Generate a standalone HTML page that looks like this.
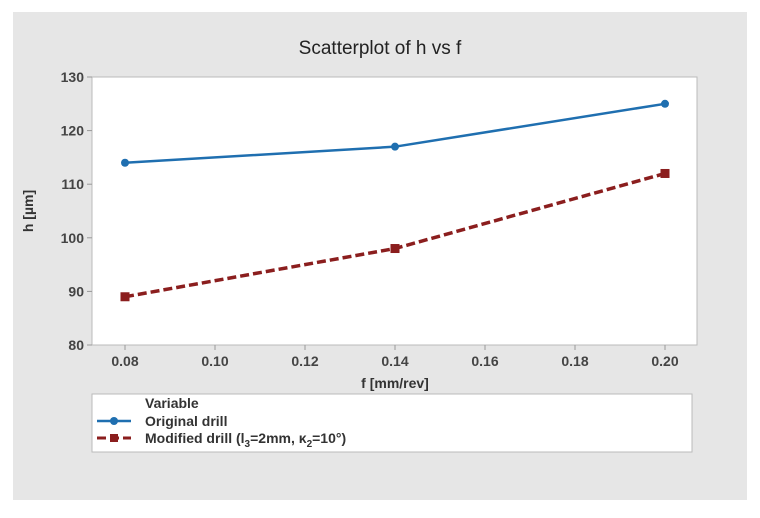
<!DOCTYPE html>
<html><head><meta charset="utf-8"><style>
body{margin:0;background:#fff;}
svg{display:block;font-family:"Liberation Sans",sans-serif;}
</style></head><body>
<svg width="760" height="518">
<rect x="13" y="12" width="734" height="488" fill="#e6e6e6"/>
<text x="380" y="54" text-anchor="middle" font-size="19" fill="#222">Scatterplot of h vs f</text>
<rect x="92" y="77" width="605" height="268" fill="#fff" stroke="#bbb"/>
<g id="axes"></g>
<g id="series"></g>
<text x="395" y="388" text-anchor="middle" font-size="14" font-weight="bold" fill="#333">f [mm/rev]</text>
<text transform="translate(33,211) rotate(-90)" text-anchor="middle" font-size="14" font-weight="bold" fill="#333">h [µm]</text>
<g>
<rect x="92" y="394" width="600" height="58" fill="#fff" stroke="#bbb"/>
<text x="145" y="408" font-size="14" font-weight="bold" fill="#333">Variable</text>
<g>
<line x1="97" y1="421" x2="131" y2="421" stroke="#1f6fb0" stroke-width="2.5"/>
<circle cx="114" cy="421" r="4" fill="#1f6fb0"/>
<text x="145" y="426" font-size="14" font-weight="bold" fill="#333">Original drill</text>
</g>
<g>
<line x1="97" y1="438" x2="131" y2="438" stroke="#8b1e1e" stroke-width="3" stroke-dasharray="9,4"/>
<rect x="110" y="434" width="8" height="8" fill="#8b1e1e"/>
<text x="145" y="443" font-size="14" font-weight="bold" fill="#333">Modified drill (l<tspan font-size="10" dy="4">3</tspan><tspan dy="-4">=2mm, κ</tspan><tspan font-size="10" dy="4">2</tspan><tspan dy="-4">=10°)</tspan></text>
</g>
</g>
</svg>
<script>
const xVals=[0.08,0.14,0.20];
const original=[114,117,125];
const modified=[89,98,112];
const xTicks=[0.08,0.10,0.12,0.14,0.16,0.18,0.20];
const yTicks=[80,90,100,110,120,130];
const NS="http://www.w3.org/2000/svg";
const X=v=>125+(v-0.08)/0.12*540;
const Y=v=>345-(v-80)/50*268;
function mk(t,a,p){const e=document.createElementNS(NS,t);for(const k in a)e.setAttribute(k,a[k]);p.appendChild(e);return e;}
const ax=document.getElementById('axes');
xTicks.forEach(t=>{
 const l=mk('line',{x1:X(t),x2:X(t),y1:345,y2:350,stroke:'#999'},ax);
 
 
 const tx=mk('text',{x:X(t),y:366,'text-anchor':'middle','font-size':14,'font-weight':'bold',fill:'#444'},ax);
 tx.textContent=t.toFixed(2);
 
 
});
yTicks.forEach(t=>{
 const l=mk('line',{x1:87,x2:92,y1:Y(t),y2:Y(t),stroke:'#999'},ax);
 
 
 const tx=mk('text',{x:84,y:Y(t)+5,'text-anchor':'end','font-size':14,'font-weight':'bold',fill:'#444'},ax);
 tx.textContent=t;
 
 
});
const s=document.getElementById('series');
const p1=mk('polyline',{points:xVals.map((x,i)=>X(x)+','+Y(original[i])).join(' '),fill:'none',stroke:'#1f6fb0','stroke-width':2.5},s);


const p2=mk('polyline',{points:xVals.map((x,i)=>X(x)+','+Y(modified[i])).join(' '),fill:'none',stroke:'#8b1e1e','stroke-width':3.5,'stroke-dasharray':'9,4'},s);


xVals.forEach((x,i)=>{
 const c=mk('circle',{cx:X(x),cy:Y(original[i]),r:4,fill:'#1f6fb0'},s);
 
 
 const r=mk('rect',{x:X(x)-4.5,y:Y(modified[i])-4.5,width:9,height:9,fill:'#8b1e1e'},s);
 
 
});
</script>
</body></html>
